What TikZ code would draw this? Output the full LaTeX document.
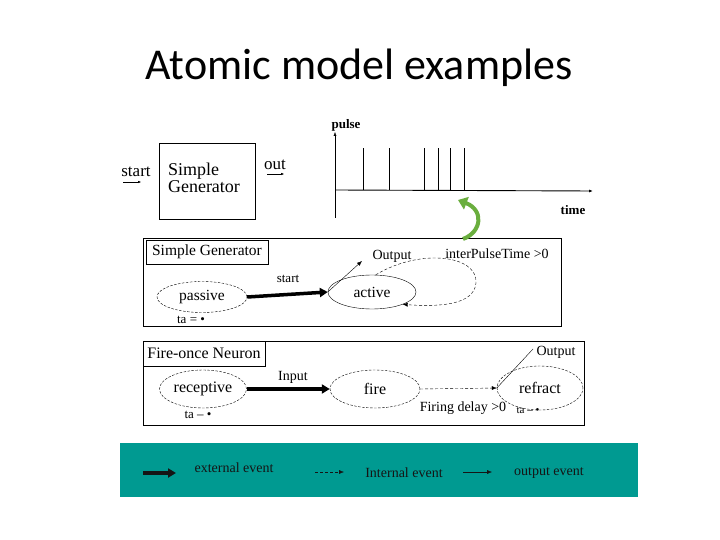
\documentclass[tikz,border=0pt]{standalone}
\usepackage{fontspec}
\setmainfont{Liberation Serif}
\newfontfamily\titlefont{Carlito}
\usepackage{tikz}
\usetikzlibrary{arrows.meta,positioning,shapes.geometric,calc}
\definecolor{legendbg}{HTML}{009A91}
\definecolor{curlgreen}{HTML}{6AAE3E}
\definecolor{legendtext}{HTML}{151515}
\newcommand{\fsz}[1]{\fontsize{#1}{#1}\selectfont}

\begin{document}
\begin{tikzpicture}[x=1pt, y=-1pt,
    state/.style={ellipse, draw, thin, dash pattern=on 2.5pt off 1.5pt, inner sep=0pt},
    panel/.style={draw, thin, inner sep=0pt},
    extev/.style={line width=3.5pt, -{Triangle[length=8pt, width=9pt]}},
    intev/.style={thin, dash pattern=on 3pt off 2pt, -{Latex[length=5pt, width=4pt]}},
    outev/.style={thin, -{Latex[length=5pt, width=4pt]}}]
    \path[fill=white, use as bounding box] (0,0) rectangle (720,540);

    % Title
    \node[font=\titlefont\fsz{44}] (title) at (359,68) {Atomic model examples};

    % Simple generator block
    \node[panel, minimum width=96, minimum height=76] (sgbox) at (207,181) {};
    \node[font=\fsz{18}, align=left, inner sep=0pt] (sgtext) at (204,178) {Simple\\[-1pt]Generator};
    \node[font=\fsz{17}, inner sep=0pt] (sgin) at (136,172) {start};
    \node[font=\fsz{17}, inner sep=0pt] (sgout) at (275,165) {out};
    \coordinate (sginA) at (123,182);
    \coordinate (sginB) at (141,182);
    \coordinate (sgoutA) at (267,174);
    \coordinate (sgoutB) at (284,174);
    \draw[-{Latex[length=3pt, width=2.5pt]}, thin] (sginA) -- (sginB);
    \draw[-{Latex[length=3pt, width=2.5pt]}, thin] (sgoutA) -- (sgoutB);

    % Pulse train
    \coordinate (ybot) at (335,218);
    \coordinate (ytop) at (335,132);
    \coordinate (xbeg) at (335,190);
    \coordinate (xend) at (593,191);
    \draw[thin, -{Latex[length=4pt, width=3pt]}] (ybot) -- (ytop);
    \draw[line width=0.9pt, -{Latex[length=4pt, width=3pt]}] (xbeg) -- (xend);
    \foreach \px in {363,389,424,438,450,464} {
      \draw[thin] (\px,190) -- (\px,148);
    }
    \node[font=\fsz{13}\bfseries, inner sep=0pt] (pulselbl) at (346,125) {pulse};
    \node[font=\fsz{13}\bfseries, inner sep=0pt] (timelbl) at (573,210) {time};

    % Generator state graph
    \node[panel, minimum width=418, minimum height=88] (genpanel) at (352,282) {};
    \node[panel, font=\fsz{15.5}, minimum width=122, minimum height=24] (gentitle) at (207,252) {Simple Generator};
    \node[state, minimum width=90, minimum height=31, font=\fsz{15.5}] (passive) at (202,297) {passive};
    \node[state, solid, minimum width=88, minimum height=34, font=\fsz{15.5}] (active) at (372,292) {active};
    \node[font=\fsz{13}, inner sep=0pt] (passiveta) at (191,320) {ta = •};
    \node[font=\fsz{13}, inner sep=0pt] (startlbl) at (288,279) {start};
    \node[font=\fsz{14}, inner sep=0pt] (genout) at (392,256) {Output};
    \node[font=\fsz{14}, inner sep=0pt] (iptlbl) at (497,254) {interPulseTime >0};
    \coordinate (genouttip) at (362,261);
    \coordinate (loopturn) at (476,283);
    \draw[extev] (passive.east) -- (active.west);
    \draw[outev] (active.west) -- (genouttip);
    \draw[intev] (active.78) .. controls (420,248) and (478,255) .. (loopturn)
      .. controls (474,305) and (440,307) .. (active.-22);

    % Curl from the state graph to the pulse train
    \coordinate (curlA) at (463,239);
    \coordinate (curlB) at (458,200);
    \draw[curlgreen, line width=4pt, -{Triangle[length=9pt, width=13pt]}]
      (curlA) .. controls (482,232) and (484,210) .. (curlB);

    % Fire-once neuron state graph
    \node[panel, minimum width=441, minimum height=84] (nrnpanel) at (363.5,383) {};
    \node[panel, font=\fsz{16}, minimum width=122, minimum height=25] (nrntitle) at (204,353.5) {Fire-once Neuron};
    \node[state, minimum width=87, minimum height=38, font=\fsz{16}] (receptive) at (203,389) {receptive};
    \node[state, minimum width=90, minimum height=38, font=\fsz{16}] (fire) at (375,389) {fire};
    \node[state, minimum width=86, minimum height=44, font=\fsz{16}] (refract) at (540,388) {refract};
    \node[font=\fsz{13}, inner sep=0pt] (receptiveta) at (198,415) {ta – •};
    \node[font=\fsz{14}, inner sep=0pt] (inputlbl) at (293,377) {Input};
    \node[font=\fsz{14}, inner sep=0pt] (nrnout) at (556,352) {Output};
    \node[font=\fsz{14}, inner sep=0pt] (delaylbl) at (463,408) {Firing delay >0};
    \node[font=\fsz{11}, inner sep=0pt] (refractta) at (528,410) {ta – •};
    \coordinate (nrnouttip) at (533,349);
    \draw[extev] (receptive.east) -- (fire.west);
    \draw[intev] (fire.east) -- (refract.west);
    \draw[thin] (refract.west) -- (nrnouttip);

    % Legend
    \node[fill=legendbg, minimum width=518, minimum height=54, inner sep=0pt] (legend) at (379,470) {};
    \node[font=\fsz{14}, text=legendtext, inner sep=0pt] (extlbl) at (234,468) {external event};
    \node[font=\fsz{14}, text=legendtext, inner sep=0pt] (intlbl) at (404,473) {Internal event};
    \node[font=\fsz{14}, text=legendtext, inner sep=0pt] (outlbl) at (549,473) {output event};
    \coordinate (extA) at (143,473);
    \coordinate (extB) at (176,473);
    \coordinate (intA) at (315,472);
    \coordinate (intB) at (344,472);
    \coordinate (outA) at (463,472);
    \coordinate (outB) at (492,472);
    \draw[extev, legendtext] (extA) -- (extB);
    \draw[intev, legendtext] (intA) -- (intB);
    \draw[outev, legendtext] (outA) -- (outB);
  \end{tikzpicture}
\end{document}
